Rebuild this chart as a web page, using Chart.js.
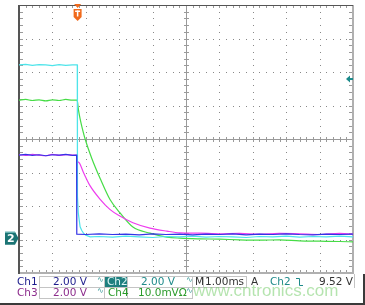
<!DOCTYPE html>
<html>
<head>
<meta charset="utf-8">
<script src="https://cdn.jsdelivr.net/npm/chart.js@4.4.0/dist/chart.umd.min.js"></script>
<style>
html, body { margin: 0; padding: 0; background: #fff; }
#wrap { width: 365px; height: 305px; }
</style>
</head>
<body>
<div id="wrap"><canvas id="scope" width="365" height="305"></canvas></div>
<script>
const ch1Time = [0, 0.2, 0.4, 0.6, 0.8, 1.0, 1.2, 1.4, 1.6, 1.725, 1.73, 2.0, 2.4, 2.8, 3.2, 3.6, 4.0, 4.4, 4.8, 5.2, 5.6, 6.0, 6.4, 6.8, 7.2, 7.6, 8.0, 8.4, 8.8, 9.2, 9.6, 10]
const ch1Div = [3.52, 3.54, 3.51, 3.53, 3.50, 3.53, 3.52, 3.54, 3.51, 3.52, 1.16, 1.15, 1.17, 1.15, 1.16, 1.14, 1.17, 1.15, 1.16, 1.14, 1.16, 1.15, 1.17, 1.14, 1.16, 1.15, 1.17, 1.15, 1.14, 1.16, 1.15, 1.16]

const ch2Time = [0, 0.2, 0.4, 0.6, 0.8, 1.0, 1.2, 1.4, 1.6, 1.745, 1.75, 1.775, 1.83, 1.88, 1.93, 2.0, 2.13, 2.4, 2.8, 3.2, 3.6, 4.0, 4.4, 4.8, 5.2, 5.6, 6.0, 6.4, 6.8, 7.2, 7.6, 8.0, 8.4, 8.8, 9.2, 9.6, 10]
const ch2Div = [6.21, 6.23, 6.20, 6.22, 6.21, 6.19, 6.22, 6.20, 6.21, 6.21, 2.3, 1.79, 1.38, 1.27, 1.19, 1.13, 1.08, 1.09, 1.07, 1.10, 1.08, 1.06, 1.09, 1.08, 1.10, 1.07, 1.09, 1.08, 1.06, 1.09, 1.08, 1.10, 1.07, 1.09, 1.08, 1.10, 1.08]

const ch3Time = [0, 0.2, 0.4, 0.6, 0.8, 1.0, 1.2, 1.4, 1.6, 1.73, 1.74, 1.78, 1.93, 2.13, 2.43, 2.72, 3.02, 3.41, 3.92, 4.43, 4.82, 5.4, 6.0, 6.6, 7.2, 7.8, 8.4, 9.0, 9.6, 10]
const ch3Div = [3.53, 3.51, 3.54, 3.52, 3.50, 3.54, 3.51, 3.53, 3.52, 3.52, 3.33, 3.31, 3.0, 2.6, 2.2, 1.9, 1.7, 1.5, 1.34, 1.25, 1.20, 1.19, 1.17, 1.18, 1.16, 1.18, 1.17, 1.15, 1.18, 1.16]

const ch4Time = [0, 0.2, 0.4, 0.6, 0.8, 1.0, 1.2, 1.4, 1.6, 1.74, 1.78, 1.83, 1.88, 1.98, 2.18, 2.43, 2.72, 3.02, 3.41, 3.92, 4.43, 4.82, 5.4, 6.0, 6.6, 7.2, 7.8, 8.4, 9.0, 9.6, 10]
const ch4Div = [5.16, 5.18, 5.15, 5.17, 5.14, 5.17, 5.15, 5.18, 5.16, 5.16, 4.87, 4.6, 4.38, 4.0, 3.42, 2.82, 2.2, 1.8, 1.37, 1.19, 1.07, 1.04, 1.02, 1.01, 0.99, 0.98, 0.99, 0.96, 0.95, 0.94, 0.93]

const xDivs = 10
const yDivs = 8
const triggerDiv = 1.74
const ch2GroundDiv = 1.04
const triggerLevelDiv = 5.79

// status bar texts
const row1 = [
    ["Ch1", 17, "#1c1c8c"], ["2.00 V", 53, "#1c1c8c"],
    ["Ch2", 107, "#dff8f8"], ["2.00 V", 141, "#1f8a8a"],
    ["M", 195, "#333"], ["1.00ms", 205, "#333"], ["A", 251, "#333"],
    ["Ch2", 270, "#1f8a8a"]
]
const row2 = [
    ["Ch3", 17, "#8c2c8c"], ["2.00 V", 53, "#8c2c8c"],
    ["Ch4", 108, "#2a9a2a"], ["10.0mV\u03a9", 138, "#2a9a2a"]
]
const triggerText = "9.52 V"
const watermark = "www.cntronics.com"

function pts(t, v) {
    return t.map((x, i) => ({ x: x, y: v[i] }))
}

const scopeGrid = {
    id: "scopeGrid",
    beforeDatasetsDraw(chart) {
        const ctx = chart.ctx
        const xs = chart.scales.x
        const ys = chart.scales.y
        const a = chart.chartArea
        ctx.save()
        // dotted grid
        ctx.fillStyle = "#888"
        for (let i = 1; i < xDivs; i++) {
            if (i === xDivs / 2) continue
            const px = Math.round(xs.getPixelForValue(i))
            for (let j = 1; j < yDivs * 5; j++) {
                ctx.fillRect(px, Math.round(ys.getPixelForValue(j / 5)), 1, 1)
            }
        }
        for (let i = 1; i < yDivs; i++) {
            if (i === yDivs / 2) continue
            const py = Math.round(ys.getPixelForValue(i))
            for (let j = 1; j < xDivs * 5; j++) {
                ctx.fillRect(Math.round(xs.getPixelForValue(j / 5)), py, 1, 1)
            }
        }
        // centre cross with minor ticks
        const cx = Math.round(xs.getPixelForValue(xDivs / 2))
        const cy = Math.round(ys.getPixelForValue(yDivs / 2))
        ctx.fillStyle = "#9a9a9a"
        ctx.fillRect(a.left, cy, a.right - a.left, 1)
        ctx.fillRect(cx, a.top, 1, a.bottom - a.top)
        for (let j = 1; j < xDivs * 5; j++) {
            const px = Math.round(xs.getPixelForValue(j / 5))
            ctx.fillRect(px, cy - 2, 1, 5)
            ctx.fillRect(px, a.top, 1, 3)
            ctx.fillRect(px, a.bottom - 3, 1, 3)
        }
        for (let j = 1; j < yDivs * 5; j++) {
            const py = Math.round(ys.getPixelForValue(j / 5))
            ctx.fillRect(cx - 2, py, 5, 1)
            ctx.fillRect(a.left, py, 4, 1)
            ctx.fillRect(a.right - 4, py, 4, 1)
        }
        // frame
        ctx.fillStyle = "#b0b0b0"
        ctx.fillRect(a.right - 1, a.top, 2, a.bottom - a.top + 1)
        ctx.fillRect(a.left, a.bottom - 1, a.right - a.left + 1, 2)
        ctx.fillStyle = "#555"
        ctx.fillRect(a.left - 1, a.top, 2, a.bottom - a.top + 1)
        ctx.fillRect(a.left - 1, a.top, a.right - a.left + 1, 1)
        ctx.restore()
    },
    afterDraw(chart) {
        const ctx = chart.ctx
        const xs = chart.scales.x
        const ys = chart.scales.y
        const a = chart.chartArea
        ctx.save()
        // trigger position marker
        const tx = xs.getPixelForValue(triggerDiv) + 0.5
        ctx.fillStyle = "#f06a1c"
        ctx.beginPath()
        ctx.moveTo(tx - 3.5, 4); ctx.lineTo(tx + 3.5, 4); ctx.lineTo(tx, 8); ctx.closePath()
        ctx.fill()
        ctx.beginPath()
        ctx.moveTo(tx - 4, 9); ctx.lineTo(tx + 4, 9); ctx.lineTo(tx + 4, 17)
        ctx.lineTo(tx, 21); ctx.lineTo(tx - 4, 17); ctx.closePath()
        ctx.fill()
        ctx.fillStyle = "#fff"
        ctx.fillRect(tx - 2.5, 10.5, 5, 1.5)
        ctx.fillRect(tx - 0.75, 10.5, 1.5, 6)
        // trigger level arrow on the right
        const ly = ys.getPixelForValue(triggerLevelDiv)
        ctx.fillStyle = "#1a8a8a"
        ctx.beginPath()
        ctx.moveTo(a.right - 7, ly); ctx.lineTo(a.right - 3, ly - 3.5); ctx.lineTo(a.right - 3, ly + 3.5); ctx.closePath()
        ctx.fill()
        ctx.fillRect(a.right - 4, ly - 1, 4, 2)
        // ch2 ground marker
        const gy = ys.getPixelForValue(ch2GroundDiv)
        ctx.fillStyle = "#1b7474"
        ctx.beginPath()
        ctx.moveTo(5, gy - 6.5); ctx.lineTo(15, gy - 6.5); ctx.lineTo(18.5, gy)
        ctx.lineTo(15, gy + 6.5); ctx.lineTo(5, gy + 6.5); ctx.closePath()
        ctx.fill()
        ctx.fillStyle = "#8fd0d0"
        ctx.fillRect(5, gy - 6.5, 10, 1)
        ctx.fillStyle = "#fff"
        ctx.font = "bold 11px 'DejaVu Sans'"
        ctx.textBaseline = "middle"
        ctx.textAlign = "left"
        ctx.fillText("2", 7, gy + 0.5)

        // status bar boxes
        ctx.fillStyle = "#c4c4c4"
        ctx.fillRect(39, 276, 154, 1)
        ctx.fillRect(39, 287, 154, 1)
        ctx.fillRect(39, 298, 154, 1)
        ctx.fillRect(39, 276, 1, 23)
        ctx.fillRect(104, 276, 1, 23)
        ctx.fillRect(127, 276, 1, 23)
        ctx.fillRect(192, 276, 1, 23)
        ctx.fillRect(192, 276, 55, 1)
        ctx.fillRect(192, 287, 55, 1)
        ctx.fillRect(203, 276, 1, 12)
        ctx.fillRect(246, 276, 1, 12)
        ctx.fillRect(354, 274, 1, 14)
        ctx.fillStyle = "#1f7f7f"
        ctx.fillRect(105, 277, 22, 10)

        ctx.font = "10.5px 'DejaVu Sans'"
        row1.forEach(r => { ctx.fillStyle = r[2]; ctx.fillText(r[0], r[1], 282.5) })
        row2.forEach(r => { ctx.fillStyle = r[2]; ctx.fillText(r[0], r[1], 293.5) })
        ctx.textAlign = "right"
        ctx.fillStyle = "#333"
        ctx.fillText(triggerText, 353, 282.5)
        ctx.textAlign = "left"
        // coupling symbols
        ctx.font = "8px 'DejaVu Sans'"
        ctx.fillStyle = "#3a9a9a"
        ctx.fillText("\u223f", 97, 280)
        ctx.fillText("\u223f", 97, 291)
        ctx.fillText("\u223f", 186, 280)
        ctx.fillText("\u223f", 186, 291)
        // falling slope symbol
        ctx.strokeStyle = "#1f8a8a"
        ctx.lineWidth = 1
        ctx.beginPath()
        ctx.moveTo(296, 278.5); ctx.lineTo(299.5, 278.5); ctx.lineTo(299.5, 285.5); ctx.lineTo(303, 285.5)
        ctx.stroke()

        // watermark
        ctx.font = "17px 'Liberation Sans'"
        ctx.fillStyle = "rgba(120, 205, 110, 0.55)"
        ctx.textBaseline = "alphabetic"
        ctx.fillText(watermark, 193, 296)

        // screen edge
        ctx.fillStyle = "#3a3a3a"
        ctx.fillRect(0, 303, 365, 2)
        ctx.fillRect(363, 274, 2, 31)
        ctx.restore()
    }
}

const ctx = document.getElementById("scope").getContext("2d")
const scope = new Chart(ctx, {
    type: "line",
    data: {
        datasets: [
            { label: "Ch1", data: pts(ch1Time, ch1Div), borderColor: "#3434e6", order: 0 },
            { label: "Ch2", data: pts(ch2Time, ch2Div), borderColor: "#4ee4ea", order: 1 },
            { label: "Ch3", data: pts(ch3Time, ch3Div), borderColor: "#ee3cee", order: 2, cubicInterpolationMode: "monotone" },
            { label: "Ch4", data: pts(ch4Time, ch4Div), borderColor: "#46dc46", order: 3, cubicInterpolationMode: "monotone" }
        ]
    },
    options: {
        responsive: false,
        animation: false,
        devicePixelRatio: 1,
        layout: { padding: { left: 19, right: 12, top: 5, bottom: 32 } },
        elements: {
            point: { radius: 0 },
            line: { borderWidth: 1.2, tension: 0 }
        },
        plugins: { legend: { display: false }, tooltip: { enabled: false } },
        scales: {
            x: { type: "linear", min: 0, max: xDivs, display: false },
            y: { min: 0, max: yDivs, display: false }
        }
    },
    plugins: [scopeGrid]
})
</script>
</body>
</html>
